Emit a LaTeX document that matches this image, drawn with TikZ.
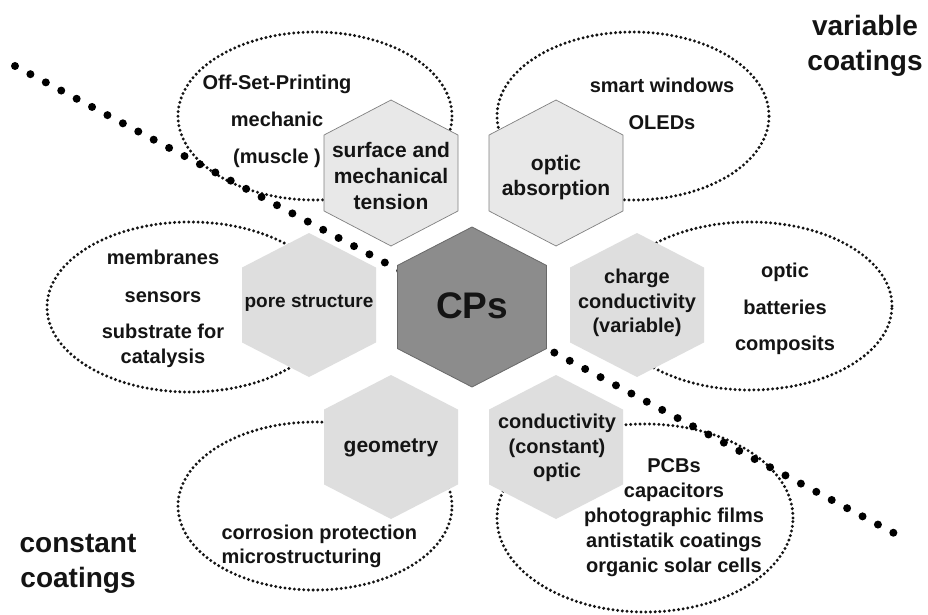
\documentclass[tikz,border=0pt]{standalone}
\usepackage{fontspec}
\setmainfont{Liberation Sans}
\usetikzlibrary{shapes.geometric}

\definecolor{hexgray}{HTML}{DEDEDE}
\definecolor{coregray}{HTML}{8C8C8C}
\definecolor{inkgray}{HTML}{141414}

% hexagon with a corner on top: centre, half width, half height, style
\newcommand{\hexat}[4]{%
  \path[#4] (#1) ++(0,-#3) -- ++(#2,0.48*#3) -- ++(0,1.04*#3) -- ++(-#2,0.48*#3)
    -- ++(-#2,-0.48*#3) -- ++(0,-1.04*#3) -- cycle;}

\begin{document}
\begin{tikzpicture}[x=1pt, y=-1pt,
    every node/.style={text=inkgray},
    zone/.style={ellipse, draw=inkgray, line width=3.3pt, dash pattern=on 0pt off 4.7pt,
      line cap=round, inner sep=0pt},
    boundary/.style={draw=black, line width=8pt, dash pattern=on 0pt off 17.45pt, line cap=round},
    hexflat/.style={fill=hexgray},
    hexrim/.style={fill=hexgray!70!white, draw=gray, line width=0.7pt},
    hexcore/.style={fill=coregray, draw=coregray!75!black, line width=0.8pt},
    hextext/.style={align=center, font=\bfseries\fontsize{20}{25}\selectfont},
    usetext/.style={align=center, font=\bfseries\fontsize{20}{37}\selectfont},
    sidetext/.style={align=center, font=\bfseries\fontsize{28}{35}\selectfont}]
  \useasboundingbox[fill=white] (0,0) rectangle (928,615);

  % fields of use
  \node[zone, minimum width=274pt, minimum height=168pt] (printing) at (315,116) {};
  \node[zone, minimum width=272pt, minimum height=168pt] (windows) at (633,116) {};
  \node[zone, minimum width=286pt, minimum height=170pt] (membranes) at (190,307) {};
  \node[zone, minimum width=284pt, minimum height=168pt] (batteries) at (750,306) {};
  \node[zone, minimum width=274pt, minimum height=168pt] (corrosion) at (315,506) {};
  \node[zone, minimum width=296pt, minimum height=188pt] (pcbs) at (645,518) {};

  % border between variable and constant coatings
  \coordinate (lineA) at (15,66);
  \coordinate (lineB) at (907,540);
  \draw[boundary] (lineA) -- (lineB);

  % hexagons
  \coordinate (surf) at (391,173);
  \coordinate (absorp) at (556,173);
  \coordinate (pore) at (309,305);
  \coordinate (charge) at (637,305);
  \coordinate (geom) at (391,447);
  \coordinate (cond) at (556,447);
  \coordinate (core) at (472,307);
  \hexat{surf}{67}{73}{hexrim}
  \hexat{absorp}{67}{73}{hexrim}
  \foreach \c in {pore,charge,geom,cond}
    \hexat{\c}{67}{72}{hexflat};
  \hexat{core}{74.5}{80}{hexcore}

  \node[font=\bfseries\fontsize{37}{37}\selectfont] (cps) at (472,306) {CPs};
  \node[hextext, font=\bfseries\fontsize{21}{26}\selectfont] (surftext) at (391,176) {surface and\\mechanical\\tension};
  \node[hextext, font=\bfseries\fontsize{21}{25}\selectfont] (absorptext) at (556,178) {optic\\absorption};
  \node[hextext, font=\bfseries\fontsize{19}{25}\selectfont] (poretext) at (309,303) {pore structure};
  \node[hextext, font=\bfseries\fontsize{20}{24.5}\selectfont] (chargetext) at (637,303) {charge\\conductivity\\(variable)};
  \node[hextext, font=\bfseries\fontsize{21}{25}\selectfont] (geomtext) at (391,448) {geometry};
  \node[hextext, font=\bfseries\fontsize{20}{24.5}\selectfont] (condtext) at (557,448) {conductivity\\(constant)\\optic};

  % applications
  \node[usetext] (printtext) at (277,121) {Off-Set-Printing\\mechanic\\(muscle )};
  \node[usetext] (windowtext) at (662,104) {smart windows\\OLEDs};
  \node[usetext, font=\bfseries\fontsize{20}{25}\selectfont] (membtext) at (163,309)
    {membranes\\[13pt]sensors\\[11pt]substrate for\\catalysis};
  \node[usetext, font=\bfseries\fontsize{20}{36.5}\selectfont] (battext) at (785,309) {optic\\batteries\\composits};
  \node[usetext, align=left, anchor=west, font=\bfseries\fontsize{20}{24}\selectfont] (corrtext) at (218,546)
    {corrosion protection\\microstructuring};
  \node[usetext, font=\bfseries\fontsize{20}{25}\selectfont] (pcbtext) at (674,518)
    {PCBs\\capacitors\\photographic films\\antistatik coatings\\organic solar cells};

  \node[sidetext] (vartext) at (865,46) {variable\\coatings};
  \node[sidetext] (consttext) at (78,564) {constant\\coatings};
\end{tikzpicture}
\end{document}
